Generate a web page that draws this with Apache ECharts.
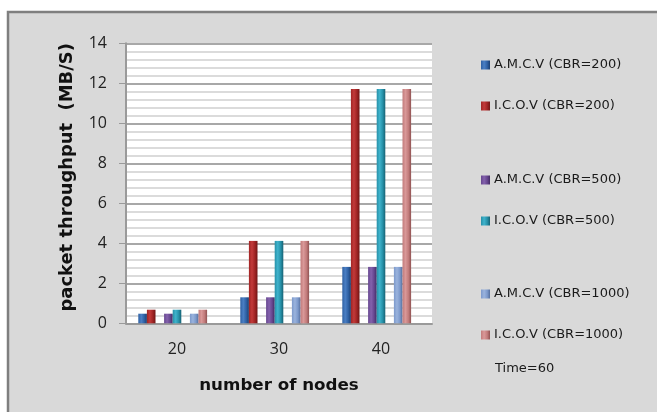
<!DOCTYPE html>
<html><head><meta charset="utf-8">
<script src="https://cdn.jsdelivr.net/npm/echarts@6/dist/echarts.min.js"></script>
<style>html,body{margin:0;padding:0;background:#fff;}#c{width:657px;height:412px;}</style>
</head><body><div id="c"></div>
<script>
const categories = ['20', '30', '40'];
const amcv200 = [0.48, 1.3, 2.82];
const icov200 = [0.68, 4.12, 11.72];
const amcv500 = [0.48, 1.3, 2.82];
const icov500 = [0.68, 4.12, 11.72];
const amcv1000 = [0.48, 1.3, 2.82];
const icov1000 = [0.68, 4.12, 11.72];
const yTicks = [0, 2, 4, 6, 8, 10, 12, 14];
const seriesNames = ['A.M.C.V (CBR=200)', 'I.C.O.V (CBR=200)', 'A.M.C.V (CBR=500)', 'I.C.O.V (CBR=500)', 'A.M.C.V (CBR=1000)', 'I.C.O.V (CBR=1000)'];
const noteText = 'Time=60';

const colors = [
  ['#4a7fc4', '#2e60a3', '#1c3f70'],
  ['#c23a3a', '#a02424', '#6e1515'],
  ['#8462ad', '#66468f', '#432b63'],
  ['#3fb3cc', '#2690a8', '#176173'],
  ['#9ab3dd', '#7c99cb', '#566f9c'],
  ['#d99898', '#c27b7b', '#8f5252']
];
function grad(c) {
  return {type: 'linear', x: 0, y: 0, x2: 1, y2: 0,
    colorStops: [{offset: 0, color: c[1]}, {offset: 0.35, color: c[0]}, {offset: 0.7, color: c[1]}, {offset: 1, color: c[2]}]};
}
const dataSets = [amcv200, icov200, amcv500, icov500, amcv1000, icov1000];
const BW = 8.6;
const series = [];
const order = [0, 1, -1, 2, 3, -1, 4, 5, -1];
let sp = 0;
order.forEach(function (idx) {
  if (idx < 0) {
    sp++;
    series.push({name: '_spacer' + sp, type: 'bar', barWidth: BW, barGap: '0%', data: [null, null, null], silent: true});
  } else {
    series.push({name: seriesNames[idx], type: 'bar', barWidth: BW, barGap: '0%', data: dataSets[idx],
      itemStyle: {color: grad(colors[idx])}});
  }
});

function legend(names, top) {
  return {orient: 'vertical', left: 481, top: top, padding: 0, itemWidth: 9, itemHeight: 9, itemGap: 28,
    icon: 'rect', data: names, selectedMode: false,
    textStyle: {fontFamily: 'DejaVu Sans', fontSize: 13, color: '#1a1a1a', padding: [0, 0, 0, -1]}};
}

const chart = echarts.init(document.getElementById('c'), null, {renderer: 'canvas'});
chart.setOption({
  backgroundColor: 'transparent',
  animation: false,
  color: colors.map(function (c) { return c[1]; }),
  graphic: [
    {type: 'rect', z: -10, shape: {x: 8, y: 12, width: 660, height: 410},
      style: {fill: '#d9d9d9', stroke: '#7f7f7f', lineWidth: 2.5}},
    {type: 'text', left: 495, top: 362, style: {text: noteText, font: '13px "DejaVu Sans"', fill: '#1a1a1a'}}
  ],
  legend: [legend(seriesNames.slice(0, 2), 58.5), legend(seriesNames.slice(2, 4), 173.5), legend(seriesNames.slice(4, 6), 287.5)],
  grid: {left: 126, right: 225, top: 43.3, bottom: 88.7, show: true, backgroundColor: '#ffffff', borderWidth: 0},
  xAxis: {
    type: 'category', data: categories,
    name: 'number of nodes', nameLocation: 'middle', nameGap: 54,
    nameTextStyle: {fontFamily: 'DejaVu Sans', fontWeight: 'bold', fontSize: 16.7, color: '#111'},
    axisLine: {lineStyle: {color: '#9a9a9a', width: 2}},
    axisTick: {show: false},
    axisLabel: {fontFamily: 'Open Sans', fontSize: 16, color: '#222', margin: 18}
  },
  yAxis: {
    type: 'value', min: 0, max: 14, interval: 2,
    name: 'packet throughput  (MB/S)', nameLocation: 'middle', nameGap: 50,
    nameTextStyle: {fontFamily: 'DejaVu Sans', fontWeight: 'bold', fontSize: 17.9, color: '#111', padding: [0, 0, 0, 12]},
    axisLine: {show: true, lineStyle: {color: '#9a9a9a', width: 2}},
    axisTick: {show: true, length: 7, lineStyle: {color: '#9a9a9a'}},
    axisLabel: {fontFamily: 'Open Sans', fontSize: 16, color: '#222', margin: 19,
      formatter: function (v) { return yTicks.indexOf(v) >= 0 ? String(v) : ''; }},
    splitLine: {show: true, lineStyle: {color: '#a8a8a8', width: 2}},
    minorTick: {show: false, splitNumber: 5},
    minorSplitLine: {show: true, lineStyle: {color: '#d0d0d0', width: 1.5}}
  },
  series: series
});
</script></body></html>
